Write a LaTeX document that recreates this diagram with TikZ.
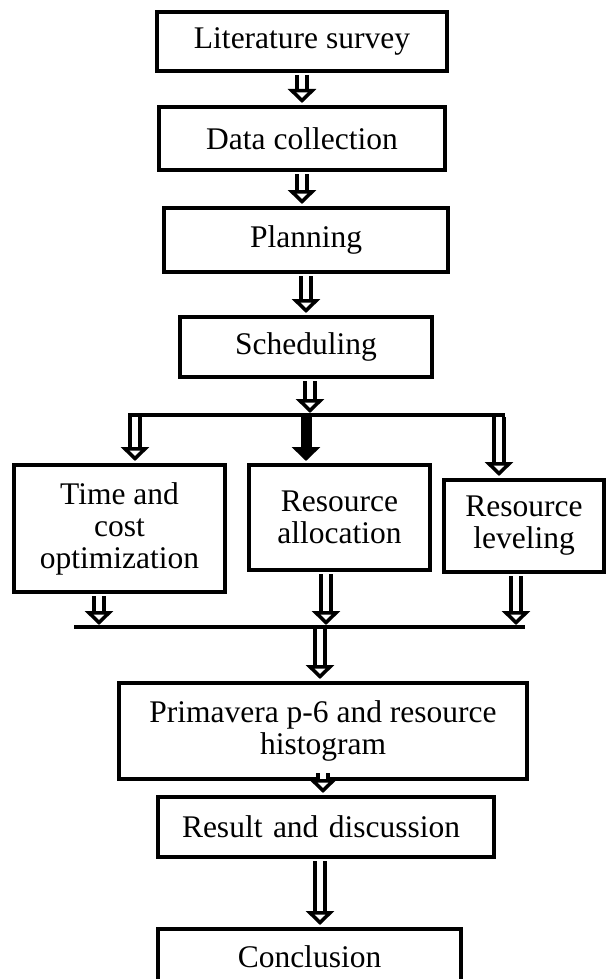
\documentclass[tikz,border=0pt]{standalone}
\usepackage{fontspec}
\setmainfont{Liberation Serif}
\usetikzlibrary{arrows.meta}

\tikzset{
  box/.style={draw, line width=4pt, align=center, inner sep=2pt,
    font=\fontsize{31.5}{32}\selectfont},
  dblarrow/.style={double, double distance=6pt, line width=4pt,
    shorten <=2pt, shorten >=2pt,
    -{Triangle[open, length=14pt, width=28pt, line width=3.5pt]}},
  fullarrow/.style={line width=11pt, shorten >=2pt,
    -{Triangle[length=14pt, width=28pt]}},
  bar/.style={line width=4pt}
}

\begin{document}
\begin{tikzpicture}[x=1pt, y=-1pt]
  \fill[white] (0,0) rectangle (607,979);
  \clip (0,0) rectangle (607,979);

  % main column
  \node[box, minimum width=290pt, minimum height=59pt] (lit) at (302,41.5) {Literature survey};
  \node[box, minimum width=286pt, minimum height=63pt] (data) at (302,138.5) {Data collection};
  \node[box, minimum width=284pt, minimum height=64pt] (plan) at (306,240) {Planning};
  \node[box, minimum width=252pt, minimum height=60pt] (sched) at (306,347) {Scheduling};

  % three branches
  \node[box, minimum width=211pt, minimum height=127pt] (time) at (119.5,528.5) {Time and\\cost\\optimization};
  \node[box, minimum width=181pt, minimum height=105pt] (alloc) at (339.5,517.5) {Resource\\allocation};
  \node[box, minimum width=160pt, minimum height=92pt] (level) at (524,526) {Resource\\leveling};

  \node[box, minimum width=408pt, minimum height=96pt] (prim) at (323,731) {Primavera p-6 and resource\\histogram};
  \node[box, text width=288pt, inner xsep=24pt, align=left, minimum height=60pt] (result) at (326,827) {Result and discussion};
  \node[box, minimum width=303pt, minimum height=56pt] (concl) at (309.5,957) {Conclusion};

  \draw[dblarrow] (lit.south) -- (data.north);
  \draw[dblarrow] (data.south) -- (data.south |- plan.north);
  \draw[dblarrow] (plan.south) -- (sched.north);

  % split
  \coordinate (split) at (310,415);
  \coordinate (splitL) at (128,415);
  \coordinate (splitR) at (505,415);
  \coordinate (toTime) at (135,415);
  \coordinate (toAlloc) at (306,415);
  \coordinate (toLevel) at (499,415);
  \draw[bar] (splitL) -- (splitR);
  \draw[dblarrow] (sched.south -| split) -- (split);
  \draw[dblarrow] (toTime) -- (toTime |- time.north);
  \draw[fullarrow] (toAlloc) -- (toAlloc |- alloc.north);
  \draw[dblarrow] (toLevel) -- (toLevel |- level.north);

  % join
  \coordinate (joinL) at (74,627);
  \coordinate (joinR) at (525,627);
  \coordinate (fromTime) at (99,627);
  \coordinate (fromAlloc) at (326,627);
  \coordinate (fromLevel) at (516,627);
  \coordinate (join) at (320,627);
  \draw[bar] (joinL) -- (joinR);
  \draw[dblarrow] (time.south -| fromTime) -- (fromTime);
  \draw[dblarrow] (alloc.south -| fromAlloc) -- (fromAlloc);
  \draw[dblarrow] (level.south -| fromLevel) -- (fromLevel);
  \draw[dblarrow] (join) -- (join |- prim.north);

  \draw[dblarrow] ([yshift=10pt]prim.south) -- (prim.south |- result.north);
  \draw[dblarrow] (join |- result.south) -- (join |- concl.north);
\end{tikzpicture}
\end{document}
